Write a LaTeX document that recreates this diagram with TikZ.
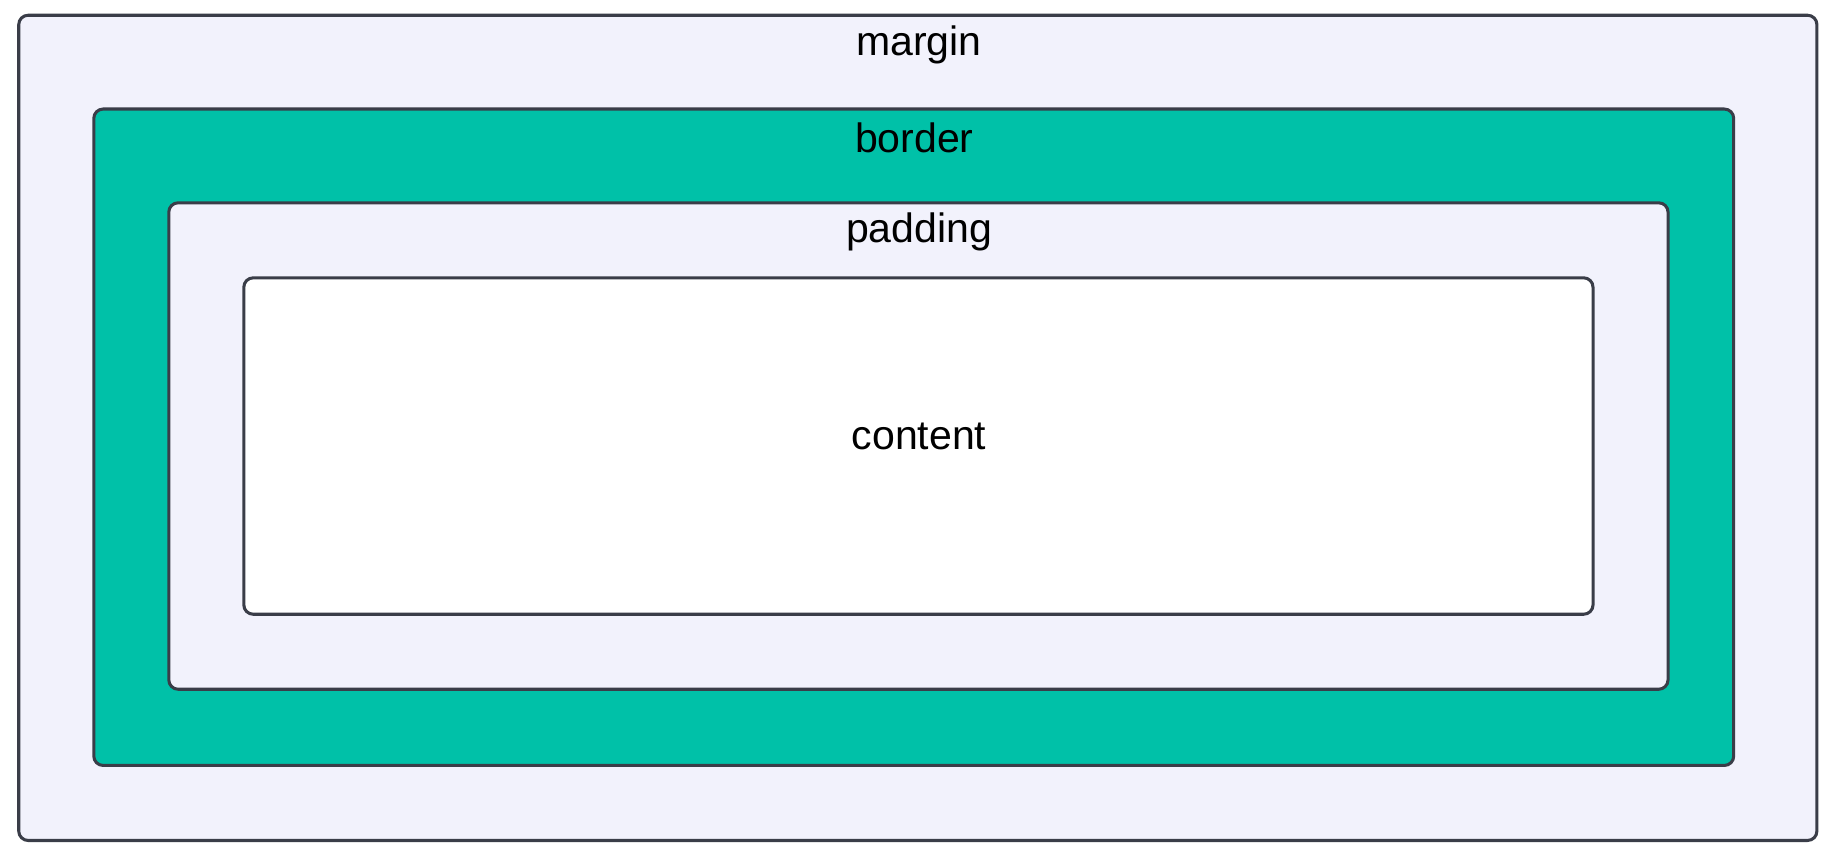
\documentclass[tikz,border=0pt]{standalone}
\usepackage{fontspec}
\setmainfont{Liberation Sans}
\definecolor{lav}{HTML}{F2F2FC}
\definecolor{teal}{HTML}{00C1A8}
\definecolor{edge}{HTML}{3A3D48}
\tikzset{box/.style={draw=edge,line width=1.3pt,rounded corners=4pt},
lbl/.style={font=\fontsize{17.5}{20}\selectfont,text=black}}
\begin{document}
\begin{tikzpicture}[x=0.5pt,y=-0.5pt]
\useasboundingbox (0,0) rectangle (1568,734.6);
\draw[box,fill=lav] (16,13) rectangle (1550,717);
\draw[box,fill=teal] (80,93) rectangle (1479,653);
\draw[box,fill=lav] (144,173) rectangle (1423,588);
\draw[box,fill=white] (208,237) rectangle (1359,524);
\node[lbl] (m) at (784,38) {margin};
\node[lbl] (b) at (780,118) {border};
\node[lbl] (p) at (784,198) {padding};
\node[lbl] (c) at (784,372) {content};
\end{tikzpicture}
\end{document}
